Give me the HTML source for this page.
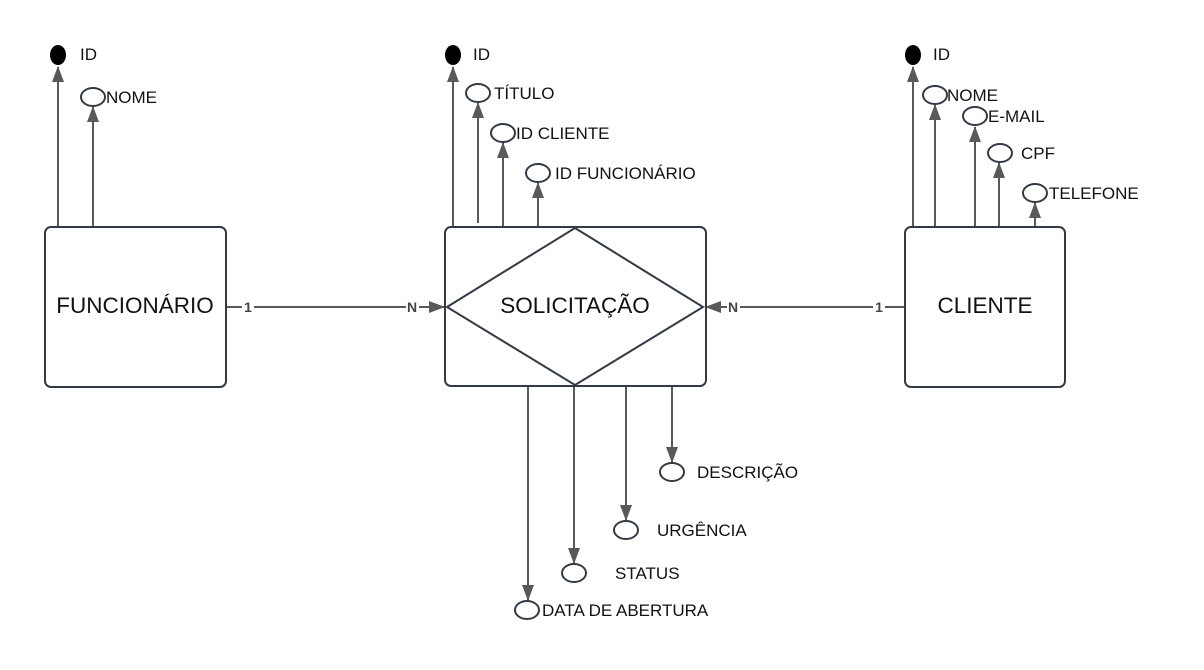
<!DOCTYPE html>
<html><head><meta charset="utf-8"><style>
html,body{margin:0;padding:0;background:#fff;}
svg{display:block;}
text{font-family:"Liberation Sans",Arial,sans-serif;fill:#111;}
</style></head><body>
<svg width="1204" height="670" viewBox="0 0 1204 670" xmlns="http://www.w3.org/2000/svg">
<defs>
<marker id="b" markerWidth="16" markerHeight="12" refX="15" refY="6" orient="auto" markerUnits="userSpaceOnUse" viewBox="0 0 16 12">
<path d="M0,0 L16,6 L0,12 z" fill="#595959"/>
</marker>
</defs>
<g stroke="#595959" stroke-width="2" fill="none">
<line x1="58" y1="227" x2="58" y2="67" marker-end="url(#b)"/>
<line x1="93" y1="227" x2="93" y2="107" marker-end="url(#b)"/>
<line x1="453" y1="227" x2="453" y2="67" marker-end="url(#b)"/>
<line x1="478" y1="223" x2="478" y2="103" marker-end="url(#b)"/>
<line x1="503" y1="227" x2="503" y2="143" marker-end="url(#b)"/>
<line x1="538" y1="227" x2="538" y2="183" marker-end="url(#b)"/>
<line x1="913" y1="227" x2="913" y2="67" marker-end="url(#b)"/>
<line x1="935" y1="227" x2="935" y2="105" marker-end="url(#b)"/>
<line x1="975" y1="227" x2="975" y2="127" marker-end="url(#b)"/>
<line x1="999" y1="227" x2="999" y2="163" marker-end="url(#b)"/>
<line x1="1035" y1="227" x2="1035" y2="203" marker-end="url(#b)"/>
<line x1="528" y1="387" x2="528" y2="600" marker-end="url(#b)"/>
<line x1="574" y1="387" x2="574" y2="563" marker-end="url(#b)"/>
<line x1="626" y1="387" x2="626" y2="520" marker-end="url(#b)"/>
<line x1="672" y1="387" x2="672" y2="462" marker-end="url(#b)"/>
<line x1="226" y1="307" x2="444" y2="307" marker-end="url(#b)"/>
<line x1="905" y1="307" x2="706" y2="307" marker-end="url(#b)"/>
</g>
<g stroke="#333a45" stroke-width="2" fill="#fff">
<rect x="45" y="227" width="181" height="160" rx="6"/>
<rect x="445" y="227" width="261" height="159" rx="6"/>
<path d="M575,228 L703,307 L575,385 L447,307 Z" fill="none"/>
<rect x="905" y="227" width="160" height="160" rx="6"/>
<ellipse cx="93" cy="97" rx="12" ry="9"/>
<ellipse cx="478" cy="93" rx="12" ry="9"/>
<ellipse cx="503" cy="133" rx="12" ry="9"/>
<ellipse cx="538" cy="173" rx="12" ry="9"/>
<ellipse cx="935" cy="95" rx="12" ry="9"/>
<ellipse cx="975" cy="116" rx="12" ry="9"/>
<ellipse cx="1000" cy="153" rx="12" ry="9"/>
<ellipse cx="1035" cy="193" rx="12" ry="9"/>
<ellipse cx="672" cy="472" rx="12" ry="9"/>
<ellipse cx="626" cy="530" rx="12" ry="9"/>
<ellipse cx="574" cy="573" rx="12" ry="9"/>
<ellipse cx="527" cy="610" rx="12" ry="9"/>
</g>
<g fill="#000">
<ellipse cx="58" cy="55" rx="8" ry="10"/>
<ellipse cx="453" cy="55" rx="8" ry="10"/>
<ellipse cx="913" cy="55" rx="8" ry="10"/>
</g>
<g font-size="17">
<text x="80" y="60">ID</text>
<text x="106" y="103">NOME</text>
<text x="494" y="99">TÍTULO</text>
<text x="516" y="139">ID CLIENTE</text>
<text x="555" y="179">ID FUNCIONÁRIO</text>
<text x="473" y="60">ID</text>
<text x="933" y="60">ID</text>
<text x="947" y="101">NOME</text>
<text x="988" y="122">E-MAIL</text>
<text x="1021" y="159">CPF</text>
<text x="1049" y="199">TELEFONE</text>
<text x="697" y="478">DESCRIÇÃO</text>
<text x="657" y="536">URGÊNCIA</text>
<text x="615" y="579">STATUS</text>
<text x="542" y="616">DATA DE ABERTURA</text>
</g>
<g font-size="22.5" text-anchor="middle">
<text x="135" y="313">FUNCIONÁRIO</text>
<text x="575" y="313">SOLICITAÇÃO</text>
<text x="985" y="313">CLIENTE</text>
</g>
<g font-size="14" font-weight="bold" text-anchor="middle">
<rect x="242" y="300" width="12" height="14" fill="#fff"/>
<text x="248" y="312" style="fill:#444">1</text>
<rect x="406" y="300" width="13" height="14" fill="#fff"/>
<text x="412" y="312" style="fill:#444">N</text>
<rect x="727" y="300" width="13" height="14" fill="#fff"/>
<text x="733" y="312" style="fill:#444">N</text>
<rect x="873" y="300" width="12" height="14" fill="#fff"/>
<text x="879" y="312" style="fill:#444">1</text>
</g>
</svg>
</body></html>
